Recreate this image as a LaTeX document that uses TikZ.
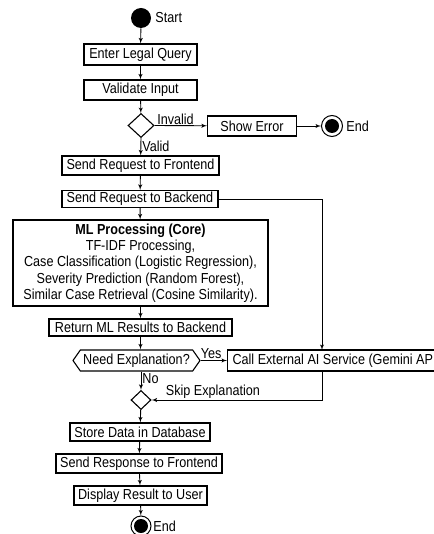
\documentclass[tikz,border=0pt]{standalone}
\usepackage{fontspec}
\setmainfont[FakeStretch=0.87]{Liberation Sans}
\usetikzlibrary{arrows,shapes.geometric,shapes.symbols}

\begin{document}
\begin{tikzpicture}[->,>=latex',x=1pt,y=-1pt,line width=0.9pt]
    \fontsize{14.5}{16.25}\selectfont
    \tikzstyle{lbl}=[text=black,inner sep=1pt]
    \tikzstyle{box}=[draw,rectangle,line width=1.1pt,inner sep=0pt,text badly centered]
    \tikzstyle{decision}=[diamond,draw,line width=1.1pt,inner sep=0pt]
    \tikzstyle{hexa}=[signal,signal to=west and east,signal pointer angle=110,draw,line width=1.1pt,inner sep=0pt]
    \tikzstyle{begin}=[circle,fill,inner sep=0pt,minimum size=20pt]
    \tikzstyle{finish}=[circle,draw,line width=1pt,inner sep=0pt,minimum size=21pt,
        path picture={\fill (path picture bounding box.center) circle (7pt);}]

    \useasboundingbox (0,0) rectangle (433,534);

    \node[begin] (start) at (141,18) {};
    \node[lbl,anchor=west] (startlbl) at (154,18) {Start};
    \node[box,minimum width=113pt,minimum height=21pt] (enter) at (140.5,54.5) {Enter Legal Query};
    \node[box,minimum width=113pt,minimum height=20pt] (check) at (140.5,90) {Validate Input};
    \node[decision,minimum width=26pt,minimum height=24pt] (valid) at (141,125.5) {};
    \node[box,minimum width=89pt,minimum height=20pt] (error) at (252,126) {Show Error};
    \node[finish] (stop1) at (332,126) {};
    \node[lbl,anchor=west] (stop1lbl) at (345,126) {End};
    \node[box,minimum width=157pt,minimum height=19pt] (front) at (140.5,165.5) {Send Request to Frontend};
    \node[box,minimum width=156pt,minimum height=17pt] (back) at (140,199) {Send Request to Backend};
    \node[box,minimum width=255pt,minimum height=86pt,align=center] (ml) at (140.5,263)
        {\textbf{ML Processing (Core)}\\TF-IDF Processing,\\Case Classification (Logistic Regression),\\
         Severity Prediction (Random Forest),\\Similar Case Retrieval (Cosine Similarity).};
    \node[box,minimum width=183pt,minimum height=17pt] (ret) at (140.5,327.5) {Return ML Results to Backend};
    \node[hexa,minimum width=127pt,minimum height=21pt] (need) at (136.5,360.5) {Need Explanation?};
    \node[box,anchor=west,inner xsep=5pt,minimum height=21pt] (call) at (227,360.5) {Call External AI Service (Gemini API)};
    \coordinate (callin) at (322,350);
    \coordinate (callout) at (322,371);
    \node[decision,minimum width=20pt,minimum height=19pt] (merge) at (141,400) {};
    \node[box,minimum width=140pt,minimum height=18pt] (store) at (140,432) {Store Data in Database};
    \node[box,minimum width=166pt,minimum height=19pt] (resp) at (139,463.5) {Send Response to Frontend};
    \node[box,minimum width=133pt,minimum height=19pt] (show) at (140.5,495.5) {Display Result to User};
    \node[finish,minimum size=20pt] (stop2) at (141,526) {};
    \node[lbl,anchor=west] (stop2lbl) at (152,526) {End};

    \path[every node/.style={lbl}]
     (start) edge (enter)
     (enter) edge (check)
     (check) edge (valid)
     (valid.east) edge node[above,pos=0.4] {Invalid} (error)
     (error) edge (stop1)
     (valid.south) edge node[right,pos=0.45] {Valid} (front)
     (front) edge (back)
     (back)  edge (ml)
     (ml)    edge (ret)
     (ret.south) edge (ret.south |- need.north)
     (need.east) edge node[above,pos=0.4] {Yes} (call)
     (need.south -| merge.north) edge node[right,pos=0.4] {No} (merge)
     (merge) edge (store)
     (store) edge (resp)
     (resp)  edge (show)
     (show)  edge (stop2);
    \draw (back.east) -| (callin);
    \draw (callout) |- node[lbl,above,pos=0.82] {Skip Explanation} (merge.east);
\end{tikzpicture}
\end{document}
